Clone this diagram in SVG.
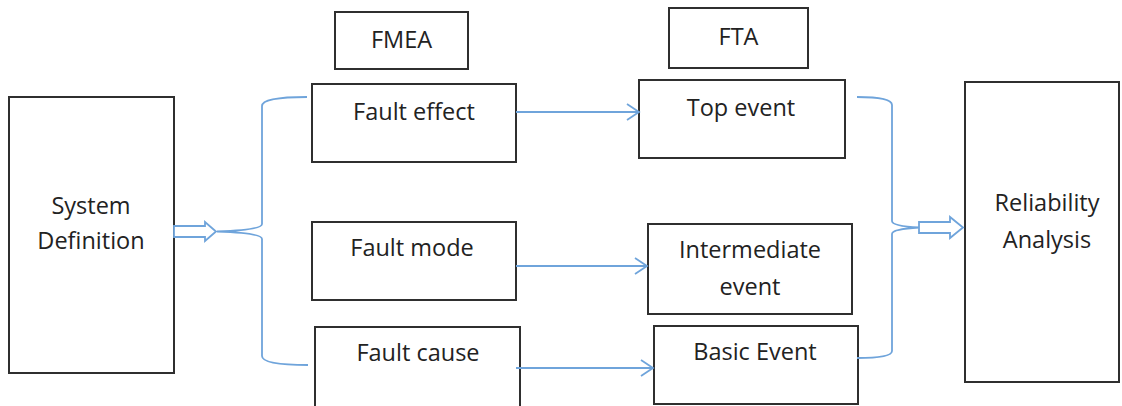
<svg xmlns="http://www.w3.org/2000/svg" width="1122" height="406" viewBox="0 0 1122 406">
  <defs>
    <style>
      .box { fill: #ffffff; stroke: #2f2f2f; stroke-width: 2; }
      .lbl { font-family: "Open Sans", "Noto Sans", sans-serif; font-size: 23.5px; fill: #222222; text-anchor: middle; }
      .wire { fill: none; stroke: #6fa4db; stroke-width: 1.8; }
      .block { fill: #ffffff; stroke: #6fa4db; stroke-width: 1.8; stroke-linejoin: miter; }
    </style>
    <marker id="open-head" markerWidth="16" markerHeight="18" refX="14" refY="9" orient="auto" markerUnits="userSpaceOnUse">
      <path d="M2,1 L14,9 L2,17" fill="none" stroke="#6fa4db" stroke-width="1.8"/>
    </marker>
  </defs>
  <rect width="1122" height="406" fill="#ffffff"/>

  <!-- column headings -->
  <g id="fmea"><rect class="box" x="335" y="12" width="133" height="57"/><text class="lbl" x="401.5" y="48">FMEA</text></g>
  <g id="fta"><rect class="box" x="669" y="8" width="139" height="60"/><text class="lbl" x="738.5" y="45">FTA</text></g>

  <!-- input and output -->
  <g id="system-definition"><rect class="box" x="9" y="97" width="165" height="276"/><text class="lbl" x="91" y="214">System</text><text class="lbl" x="91" y="249">Definition</text></g>
  <g id="reliability-analysis"><rect class="box" x="965" y="82" width="154" height="300"/><text class="lbl" x="1047" y="211">Reliability</text><text class="lbl" x="1047" y="248">Analysis</text></g>

  <!-- FMEA column -->
  <g id="fault-effect"><rect class="box" x="312" y="84" width="204" height="78"/><text class="lbl" x="414" y="120">Fault effect</text></g>
  <g id="fault-mode"><rect class="box" x="312" y="222" width="204" height="78"/><text class="lbl" x="412" y="256">Fault mode</text></g>
  <g id="fault-cause"><rect class="box" x="315" y="327" width="205" height="90"/><text class="lbl" x="418" y="361">Fault cause</text></g>

  <!-- FTA column -->
  <g id="top-event"><rect class="box" x="639" y="80" width="206" height="78"/><text class="lbl" x="741" y="116">Top event</text></g>
  <g id="intermediate-event"><rect class="box" x="648" y="224" width="204" height="90"/><text class="lbl" x="750" y="258">Intermediate</text><text class="lbl" x="750" y="295">event</text></g>
  <g id="basic-event"><rect class="box" x="654" y="326" width="204" height="78"/><text class="lbl" x="755" y="360">Basic Event</text></g>

  <g id="connectors">
    <!-- fan-out brace -->
    <path class="wire" d="M307,97 Q262,97 262,106 L262,224 Q262,230 217,231.5 Q262,233 262,239 L262,356 Q262,365 308,365"/>
    <!-- fan-in brace -->
    <path class="wire" d="M857,97 Q892,97 892,105 L892,221 Q892,226 919,227.5 Q892,229 892,234 L892,351 Q892,358 857,358"/>
    <!-- block arrows -->
    <path class="block" d="M174,226 L205,226 L205,222 L216,231.5 L205,241 L205,237 L174,237 Z"/>
    <path class="block" d="M919,222 L950,222 L950,217 L963,227.5 L950,238 L950,233 L919,233 Z"/>
    <!-- FMEA to FTA links -->
    <line class="wire" x1="516" y1="112" x2="639" y2="112" marker-end="url(#open-head)"/>
    <line class="wire" x1="516" y1="266" x2="647" y2="266" marker-end="url(#open-head)"/>
    <line class="wire" x1="516" y1="368" x2="653" y2="368" marker-end="url(#open-head)"/>
  </g>
</svg>
